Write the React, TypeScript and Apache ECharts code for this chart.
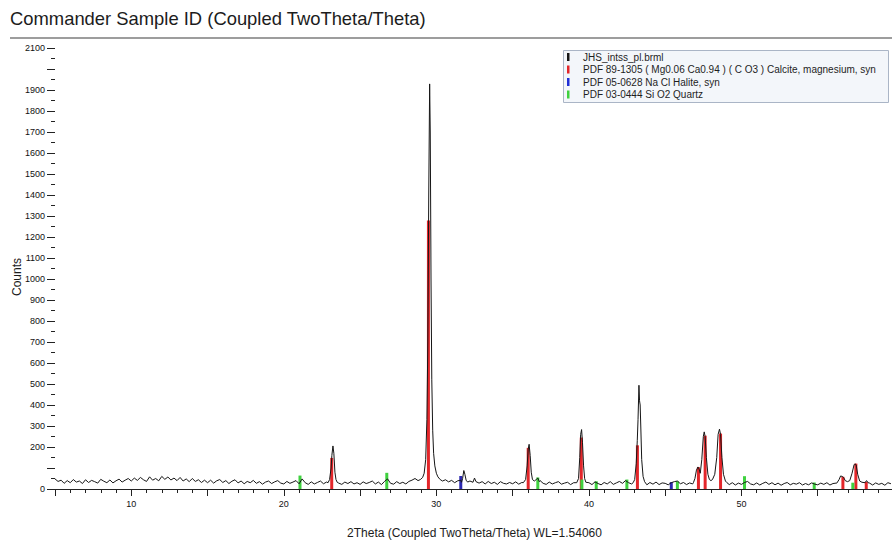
import React, { useEffect, useRef } from "react";
import * as echarts from "echarts";

// ---- Data ----
const titleText = "Commander Sample ID (Coupled TwoTheta/Theta)";
const xAxisTitle = "2Theta (Coupled TwoTheta/Theta) WL=1.54060";
const yAxisTitle = "Counts";

const scanName = "JHS_intss_pl.brml";
const calciteName = "PDF 89-1305 ( Mg0.06 Ca0.94 ) ( C O3 ) Calcite, magnesium, syn";
const haliteName = "PDF 05-0628 Na Cl Halite, syn";
const quartzName = "PDF 03-0444 Si O2 Quartz";

// background scan on a 0.2° grid starting at 5.0°
const BG_START = 5.0;
const BG_STEP = 0.2;
const backgroundCounts = [
  48, 36, 42, 27, 40, 30, 45, 33, 38, 26, 44, 31, 41, 35, 28, 46, 37, 30, 43, 29, 39, 47, 33, 42, 50,
  38, 52, 41, 55, 44, 36, 58, 42, 50, 39, 60, 46, 57, 43, 52, 40, 55, 38, 48, 35, 50, 36, 44, 31, 42,
  30, 42, 28, 39, 45, 31, 40, 26, 37, 44, 29, 38, 25, 36, 30, 41, 27, 35, 23, 33, 38, 26, 34, 40, 28,
  24, 36, 27, 33, 40, 25, 48, 30, 22, 34, 24, 31, 38, 25, 33, 29, 33, 27, 31, 22, 33, 26, 35, 24, 30,
  22, 34, 26, 31, 38, 24, 33, 21, 36, 48, 27, 23, 35, 26, 32, 24, 36, 42, 50, 44, 50, 55, 60, 60, 50,
  75, 58, 40, 44, 34, 41, 30, 39, 42, 35, 30, 38, 29, 33, 28, 35, 24, 36, 26, 32, 22, 35, 27, 24, 31,
  25, 34, 23, 31, 25, 29, 33, 28, 50, 40, 27, 22, 33, 24, 30, 35, 23, 28, 32, 21, 30, 28, 33, 29, 31,
  30, 21, 34, 26, 20, 31, 24, 35, 22, 29, 36, 27, 40, 30, 24, 33, 29, 26, 30, 20, 31, 23, 33, 21, 29,
  27, 20, 30, 35, 38, 25, 31, 21, 29, 24, 30, 26, 28, 30, 29, 34, 27, 25, 29, 23, 27, 21, 30, 19, 28,
  22, 31, 36, 24, 20, 29, 19, 27, 33, 22, 30, 20, 28, 18, 26, 31, 20, 27, 23, 30, 19, 26, 20, 29, 23,
  20, 28, 22, 30, 19, 26, 28, 45, 60, 50, 38, 60, 110, 60, 35, 30, 32, 28, 19, 29, 22, 27, 18, 30, 25,
];

// peak profiles [2theta, counts]
const peak23: number[][] = [
  [22.9, 30], [23.0, 45], [23.1, 100], [23.15, 160], [23.22, 205], [23.28, 170], [23.35, 80], [23.42, 45], [23.5, 32], [23.6, 28],
];
const peak29: number[][] = [
  [28.8, 40], [28.95, 45], [29.1, 55], [29.2, 75], [29.3, 140], [29.38, 330], [29.44, 700], [29.5, 1400], [29.56, 1929],
  [29.6, 1700], [29.65, 1000], [29.7, 520], [29.76, 280], [29.82, 170], [29.9, 110], [30.0, 75], [30.1, 58], [30.25, 45], [30.4, 38],
];
const peak31: number[][] = [
  [31.65, 32], [31.72, 50], [31.8, 88], [31.87, 70], [31.95, 42], [32.05, 33],
];
const peak32: number[][] = [
  [32.4, 32], [32.5, 52], [32.6, 35],
];
const peak36: number[][] = [
  [35.7, 30], [35.85, 45], [35.95, 110], [36.02, 190], [36.08, 213], [36.15, 160], [36.22, 80], [36.3, 45], [36.42, 38],
  [36.55, 45], [36.65, 52], [36.75, 35],
];
const peak39: number[][] = [
  [39.2, 30], [39.32, 50], [39.4, 150], [39.46, 260], [39.52, 283], [39.58, 220], [39.65, 110], [39.72, 50], [39.8, 32],
];
const peak43: number[][] = [
  [42.9, 30], [43.0, 45], [43.1, 120], [43.17, 230], [43.22, 330], [43.28, 494], [43.32, 420], [43.36, 400], [43.4, 300],
  [43.46, 140], [43.55, 60], [43.65, 35],
];
const peak47: number[][] = [
  [46.85, 30], [46.95, 50], [47.05, 90], [47.15, 105], [47.22, 95], [47.3, 75], [47.4, 140], [47.5, 250], [47.56, 272],
  [47.62, 250], [47.7, 150], [47.8, 70], [47.9, 45], [48.0, 40], [48.1, 45], [48.25, 70], [48.38, 150], [48.47, 260],
  [48.56, 285], [48.63, 260], [48.72, 150], [48.82, 70], [48.95, 38], [49.05, 30],
];
const peak57: number[][] = [
  [56.25, 28], [56.4, 45], [56.5, 62], [56.6, 60], [56.7, 55], [56.8, 40], [56.95, 35], [57.1, 40], [57.25, 75],
  [57.38, 115], [57.44, 120], [57.52, 115], [57.62, 70], [57.75, 38], [57.9, 32], [58.1, 30], [58.2, 40], [58.3, 30],
];

// reference stick patterns
const calciteAngles = [23.14, 29.48, 36.02, 39.5, 43.18, 47.18, 47.62, 48.63, 56.65, 57.5, 58.18];
const calciteHeights = [148, 1279, 196, 245, 208, 104, 254, 264, 58, 121, 34];
const haliteAngles = [31.6, 45.4];
const haliteHeights = [62, 33];
const quartzAngles = [21.06, 26.75, 36.65, 39.54, 40.48, 42.49, 45.8, 50.2, 54.77, 57.3];
const quartzHeights = [64, 77, 55, 45, 37, 45, 37, 61, 31, 30];

const xTickLabels = [10, 20, 30, 40, 50];
const yHiddenLabels = [100, 2000];

const COLORS = {
  scan: "#161616",
  calcite: "#e3262a",
  halite: "#2c28b0",
  quartz: "#3fd13f",
};

function buildScan(): number[][] {
  const peaks = [peak23, peak29, peak31, peak32, peak36, peak39, peak43, peak47, peak57];
  const windows = peaks.map((p) => [p[0][0], p[p.length - 1][0]]);
  const bg = backgroundCounts.map((c, i) => [+(BG_START + BG_STEP * i).toFixed(2), c]);
  const kept = bg.filter(([a]) => !windows.some(([lo, hi]) => a >= lo && a <= hi));
  const all = kept.concat(...peaks);
  all.sort((a, b) => a[0] - b[0]);
  return all;
}

const pairs = (xs: number[], ys: number[]) => xs.map((x, i) => [x, ys[i]]);

const FONT = '"Liberation Sans", Arial, sans-serif';

export default function App() {
  const ref = useRef<HTMLDivElement>(null);
  useEffect(() => {
    if (!ref.current) return;
    const chart = echarts.init(ref.current, null, { renderer: "svg" });
    const legendItems = [
      { name: scanName, color: COLORS.scan },
      { name: calciteName, color: COLORS.calcite },
      { name: haliteName, color: "#1f2fd6" },
      { name: quartzName, color: COLORS.quartz },
    ];
    const legendRowY = [57, 69.5, 82, 94.5];
    const graphic: any[] = [
      {
        type: "text",
        x: 10,
        y: 18,
        z: 100,
        style: { text: titleText, font: `18.4px ${FONT}`, fill: "#1c1c1c", align: "left", verticalAlign: "middle" },
      },
      {
        type: "line",
        z: 100,
        shape: { x1: 10, y1: 38, x2: 892, y2: 38 },
        style: { stroke: "#7d7d7d", lineWidth: 1.6 },
      },
      {
        type: "text",
        x: 17,
        y: 277,
        rotation: Math.PI / 2,
        z: 100,
        style: { text: yAxisTitle, font: `12px ${FONT}`, fill: "#1c1c1c", align: "center", verticalAlign: "middle" },
      },
      {
        type: "rect",
        z: 100,
        shape: { x: 563.5, y: 50.5, width: 325, height: 52 },
        style: { fill: "#f3f6fa", stroke: "#aab5c6", lineWidth: 1 },
      },
    ];
    legendItems.forEach((it, i) => {
      graphic.push({
        type: "rect",
        z: 101,
        shape: { x: 567, y: legendRowY[i] - 4, width: 2.5, height: 8 },
        style: { fill: it.color },
      });
      graphic.push({
        type: "text",
        x: 583,
        y: legendRowY[i],
        z: 101,
        style: { text: it.name, font: `10px ${FONT}`, fill: "#1e1e1e", align: "left", verticalAlign: "middle" },
      });
    });

    const stickSeries = (name: string, data: number[][], color: string) => ({
      name,
      type: "bar",
      data,
      barWidth: 3,
      barGap: "-100%",
      itemStyle: { color },
      z: 2,
      silent: true,
    });

    chart.setOption({
      animation: false,
      textStyle: { fontFamily: FONT },
      grid: { left: 55, right: -2, top: 48, bottom: 54, containLabel: false, outerBoundsMode: "none" },
      xAxis: {
        type: "value",
        min: 5,
        max: 60,
        interval: 5,
        name: xAxisTitle,
        nameLocation: "middle",
        nameGap: 38,
        nameTextStyle: { fontSize: 12, color: "#1c1c1c", fontFamily: FONT },
        axisLine: { show: true, lineStyle: { color: "#222", width: 1 } },
        axisTick: { show: true, length: 7, lineStyle: { color: "#222" } },
        minorTick: { show: true, splitNumber: 5, length: 4, lineStyle: { color: "#222" } },
        splitLine: { show: false },
        axisLabel: {
          fontSize: 9,
          color: "#111",
          margin: 10,
          fontFamily: FONT,
          formatter: (v: number) => (xTickLabels.includes(Math.round(v)) && Math.abs(v - Math.round(v)) < 1e-6 ? String(Math.round(v)) : ""),
        },
      },
      yAxis: {
        type: "value",
        min: 0,
        max: 2100,
        interval: 100,
        axisLine: { show: false },
        axisTick: { show: true, length: 8, lineStyle: { color: "#222" } },
        minorTick: { show: true, splitNumber: 2, length: 4, lineStyle: { color: "#222" } },
        splitLine: { show: false },
        minorSplitLine: { show: false },
        axisLabel: {
          fontSize: 9,
          color: "#111",
          margin: 10,
          fontFamily: FONT,
          formatter: (v: number) => (yHiddenLabels.includes(v) ? "" : String(v)),
        },
      },
      series: [
        stickSeries(calciteName, pairs(calciteAngles, calciteHeights), COLORS.calcite),
        stickSeries(haliteName, pairs(haliteAngles, haliteHeights), COLORS.halite),
        stickSeries(quartzName, pairs(quartzAngles, quartzHeights), COLORS.quartz),
        {
          name: scanName,
          type: "line",
          data: buildScan(),
          showSymbol: false,
          symbol: "none",
          lineStyle: { color: COLORS.scan, width: 1 },
          itemStyle: { color: COLORS.scan },
          z: 3,
          silent: true,
        },
      ],
      graphic,
    });
    return () => chart.dispose();
  }, []);
  return (
    <div
      ref={ref}
      style={{ position: "fixed", left: 0, top: 0, width: 892, height: 543, background: "#fff" }}
    />
  );
}
